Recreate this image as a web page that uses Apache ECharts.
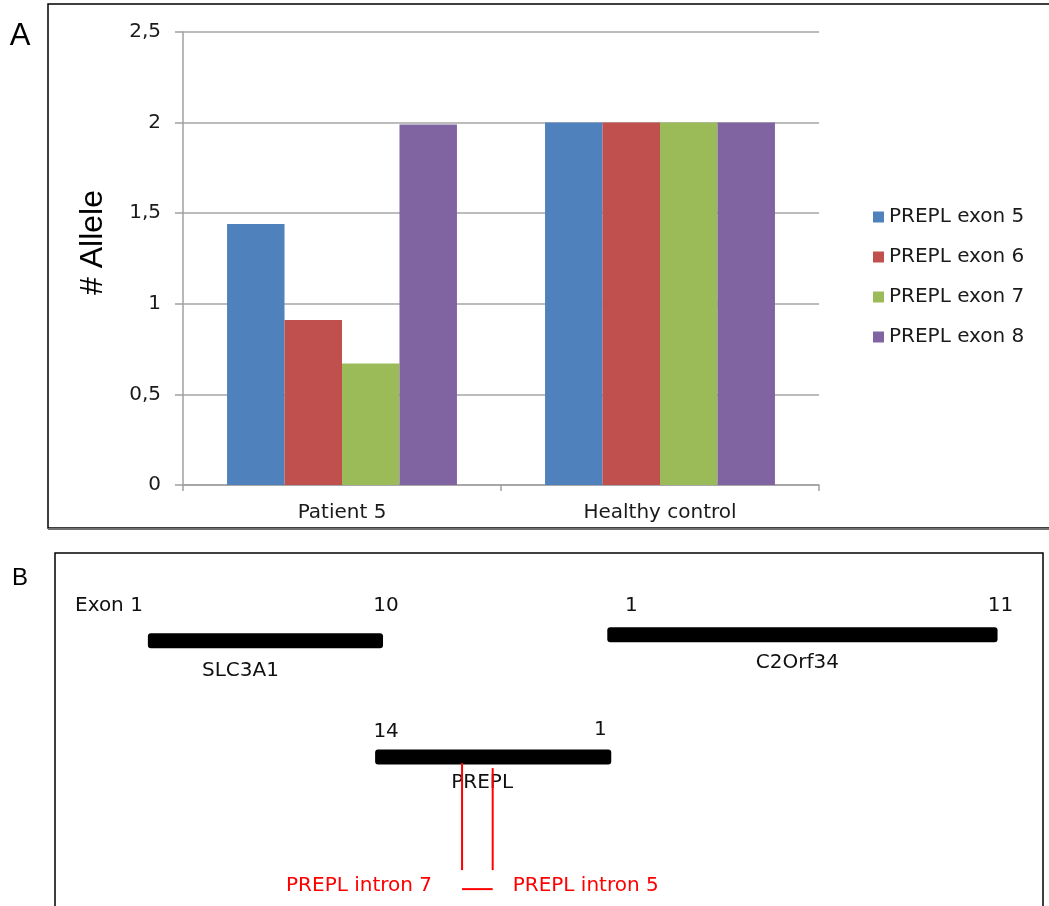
<!DOCTYPE html>
<html>
<head>
<meta charset="utf-8">
<script src="https://cdn.jsdelivr.net/npm/echarts@6/dist/echarts.min.js"></script>
<style>
  html, body { margin: 0; padding: 0; background: #fff; }
  #chart { width: 1049px; height: 906px; }
</style>
</head>
<body>
<div id="chart"></div>
<script>
// panel A: copy number per exon
var groups = ['Patient 5', 'Healthy control']
var exonNames = ['PREPL exon 5', 'PREPL exon 6', 'PREPL exon 7', 'PREPL exon 8']
var exon5 = [1.44, 2]
var exon6 = [0.91, 2]
var exon7 = [0.67, 2]
var exon8 = [1.99, 2]
var yTicks = [0, 0.5, 1, 1.5, 2, 2.5]

// panel B: gene map (position on a 0-100 scale, row 1 = top track)
var geneNames = ['SLC3A1', 'C2Orf34', 'PREPL']
var geneStart = [9.4, 55.9, 32.4]
var geneEnd = [33.2, 95.4, 56.3]
var geneRow = [1.03, 0.98, 2]
var firstExon = ['Exon 1', '1', '14']
var lastExon = ['10', '11', '1']
var breakNames = ['PREPL intron 7', 'PREPL intron 5']
var breakPos = [41.2, 44.3]

var colors = ['#4F81BD', '#C0504D', '#9BBB59', '#8064A2']
var exonValues = [exon5, exon6, exon7, exon8]

// label nudges in px: [firstX, firstY, firstAlign, lastX, lastY, nameX, nameY]
var nudge = [
  [-5, -35, 'right', 3, -35, -25, 30],
  [24, -29, 'center', 3, -29, -5, 28],
  [11, -25, 'center', -11, -27, -11, 26]
]

var chart = echarts.init(document.getElementById('chart'))

var barSeries = exonValues.map(function (vals, i) {
  return {
    name: exonNames[i],
    type: 'bar',
    xAxisIndex: 0,
    yAxisIndex: 0,
    data: vals,
    barGap: 0,
    barCategoryGap: '27.7%',
    itemStyle: { color: colors[i] }
  }
})

var geneData = geneNames.map(function (n, i) {
  return [geneStart[i], geneEnd[i], geneRow[i], i]
})

var geneSeries = {
  type: 'custom',
  xAxisIndex: 1,
  yAxisIndex: 1,
  silent: true,
  data: geneData,
  encode: { x: [0, 1], y: 2 },
  renderItem: function (params, api) {
    var i = api.value(3)
    var a = api.coord([api.value(0), api.value(2)])
    var b = api.coord([api.value(1), api.value(2)])
    var nd = nudge[i]
    var font = '20px "DejaVu Sans"'
    return {
      type: 'group',
      children: [
        { type: 'rect', shape: { x: a[0], y: a[1] - 7.5, width: b[0] - a[0], height: 15, r: 3 }, style: { fill: '#000' } },
        { type: 'text', x: a[0] + nd[0], y: a[1] + nd[1], style: { text: firstExon[i], font: font, fill: '#111', align: nd[2], verticalAlign: 'middle' } },
        { type: 'text', x: b[0] + nd[3], y: b[1] + nd[4], style: { text: lastExon[i], font: font, fill: '#111', align: 'center', verticalAlign: 'middle' } },
        { type: 'text', x: (a[0] + b[0]) / 2 + nd[5], y: a[1] + nd[6], style: { text: geneNames[i], font: font, fill: '#111', align: 'center', verticalAlign: 'middle' } }
      ]
    }
  }
}

var breakSeries = {
  type: 'custom',
  xAxisIndex: 1,
  yAxisIndex: 1,
  silent: true,
  data: breakPos.map(function (p, i) { return [p, geneRow[2], i] }),
  encode: { x: 0, y: 1 },
  z: 5,
  renderItem: function (params, api) {
    var i = api.value(2)
    var p = api.coord([api.value(0), api.value(1)])
    var red = '#FF0000'
    var font = '20px "DejaVu Sans"'
    var kids = [
      { type: 'line', shape: { x1: p[0], y1: p[1] + (i === 0 ? 6 : 11), x2: p[0], y2: p[1] + 113 }, style: { stroke: red, lineWidth: 2 } },
      { type: 'text', x: i === 0 ? p[0] - 30 : p[0] + 20, y: p[1] + 129, style: { text: breakNames[i], font: font, fill: red, align: i === 0 ? 'right' : 'left', verticalAlign: 'middle' } }
    ]
    if (i === 1) {
      var q = api.coord([breakPos[0], api.value(1)])
      kids.push({ type: 'line', shape: { x1: q[0], y1: p[1] + 132, x2: p[0], y2: p[1] + 132 }, style: { stroke: red, lineWidth: 2 } })
    }
    return { type: 'group', children: kids }
  }
}

var option = {
  backgroundColor: '#fff',
  animation: false,
  textStyle: { fontFamily: 'DejaVu Sans' },
  grid: [
    { left: 183, right: 230, top: 32, bottom: 421 },
    { left: 55, right: 6, top: 553, bottom: 0 }
  ],
  legend: {
    orient: 'vertical',
    left: 868,
    top: 201,
    icon: 'rect',
    itemWidth: 11,
    itemHeight: 11,
    itemGap: 18,
    data: exonNames,
    textStyle: { fontSize: 20, color: '#1a1a1a', fontFamily: 'DejaVu Sans', lineHeight: 22 }
  },
  xAxis: [
    {
      type: 'category',
      gridIndex: 0,
      data: groups,
      axisLine: { lineStyle: { color: '#a0a0a0', width: 1.5 } },
      axisTick: { show: true, length: 6, lineStyle: { color: '#a0a0a0', width: 1.5 } },
      axisLabel: { fontSize: 20, color: '#1a1a1a', margin: 18 }
    },
    { type: 'value', gridIndex: 1, min: 0, max: 100, show: false }
  ],
  yAxis: [
    {
      type: 'value',
      gridIndex: 0,
      min: yTicks[0],
      max: yTicks[yTicks.length - 1],
      interval: yTicks[1] - yTicks[0],
      name: '# Allele',
      nameLocation: 'middle',
      nameGap: 74,
      nameTextStyle: { fontSize: 32, fontFamily: 'Liberation Sans', color: '#000', padding: [0, 0, 0, 32] },
      axisLine: { show: true, lineStyle: { color: '#a0a0a0', width: 1.5 } },
      axisTick: { show: true, length: 8, lineStyle: { color: '#a0a0a0', width: 1.5 } },
      splitLine: { lineStyle: { color: '#a6a6a6', width: 1.5 } },
      axisLabel: {
        fontSize: 20,
        color: '#1a1a1a',
        margin: 22,
        formatter: function (v) { return String(v).replace('.', ',') }
      }
    },
    { type: 'value', gridIndex: 1, min: 0.3, max: 3.24, inverse: true, show: false }
  ],
  graphic: [
    { type: 'rect', shape: { x: 48, y: 4, width: 1020, height: 524 }, style: { fill: 'none', stroke: '#000', lineWidth: 1.5 }, silent: true },
    { type: 'line', shape: { x1: 48, y1: 529, x2: 1049, y2: 529 }, style: { stroke: '#707070', lineWidth: 2 }, silent: true },
    { type: 'rect', shape: { x: 55, y: 553, width: 988, height: 400 }, style: { fill: 'none', stroke: '#000', lineWidth: 1.5 }, silent: true },
    { type: 'text', x: 20, y: 36, style: { text: 'A', font: '31px "Liberation Sans"', fill: '#000', align: 'center', verticalAlign: 'middle' } },
    { type: 'text', x: 20, y: 578, style: { text: 'B', font: '24px "Liberation Sans"', fill: '#000', align: 'center', verticalAlign: 'middle' } }
  ],
  series: barSeries.concat([geneSeries, breakSeries])
}

chart.setOption(option)
</script>
</body>
</html>
